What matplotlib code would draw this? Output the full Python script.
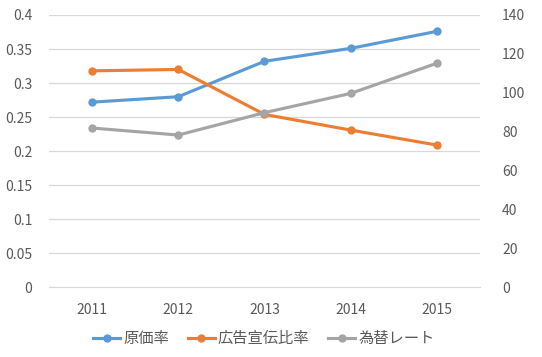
import matplotlib
matplotlib.use("Agg")
import matplotlib.pyplot as plt

plt.rcParams['font.family'] = ['Noto Sans CJK JP', 'DejaVu Sans']

years = ['2011', '2012', '2013', '2014', '2015']
genka = [0.272, 0.280, 0.332, 0.351, 0.376]
koukoku = [0.318, 0.320, 0.254, 0.231, 0.209]
kawase = [81.9, 78.3, 89.8, 99.7, 115.2]

left_ticks = [0, 0.05, 0.1, 0.15, 0.2, 0.25, 0.3, 0.35, 0.4]
left_labels = ['0', '0.05', '0.1', '0.15', '0.2', '0.25', '0.3', '0.35', '0.4']
right_ticks = [0, 20, 40, 60, 80, 100, 120, 140]

fig = plt.figure(figsize=(5.42, 3.57), dpi=100)
ax = fig.add_axes([0.0904, 0.195, 0.7952, 0.763])
ax2 = ax.twinx()

x = list(range(len(years)))
c_blue, c_orange, c_gray = '#5B9BD5', '#ED7D31', '#A5A5A5'
l1, = ax.plot(x, genka, color=c_blue, lw=2.25, marker='o', ms=5, label='原価率', zorder=3)
l2, = ax.plot(x, koukoku, color=c_orange, lw=2.25, marker='o', ms=5, label='広告宣伝比率', zorder=3)
l3, = ax2.plot(x, kawase, color=c_gray, lw=2.25, marker='o', ms=5, label='為替レート', zorder=3)

ax.set_xlim(-0.5, len(years) - 0.5)
ax.set_ylim(0, 0.4)
ax.set_yticks(left_ticks)
ax.set_yticklabels(left_labels)
ax2.set_ylim(0, 140)
ax2.set_yticks(right_ticks)
ax.set_xticks(x)
ax.set_xticklabels(years)

ax.grid(axis='y', color='#D9D9D9', lw=0.9)
ax.set_axisbelow(True)
for a in (ax, ax2):
    for s in a.spines.values():
        s.set_visible(False)
    a.tick_params(length=0, colors='#595959', labelsize=10)
ax.spines['bottom'].set_visible(True)
ax.spines['bottom'].set_color('#D9D9D9')
ax.tick_params(axis='y', pad=12)
ax.tick_params(axis='x', pad=11)
ax2.tick_params(axis='y', pad=16)

leg = fig.legend(handles=[l1, l2, l3], loc='center', bbox_to_anchor=(0.487, 0.052),
                 ncol=3, frameon=False, fontsize=11, handlelength=1.75,
                 handletextpad=0.2, columnspacing=1.25, labelcolor='#595959')

fig.savefig('out.png', dpi=100)
